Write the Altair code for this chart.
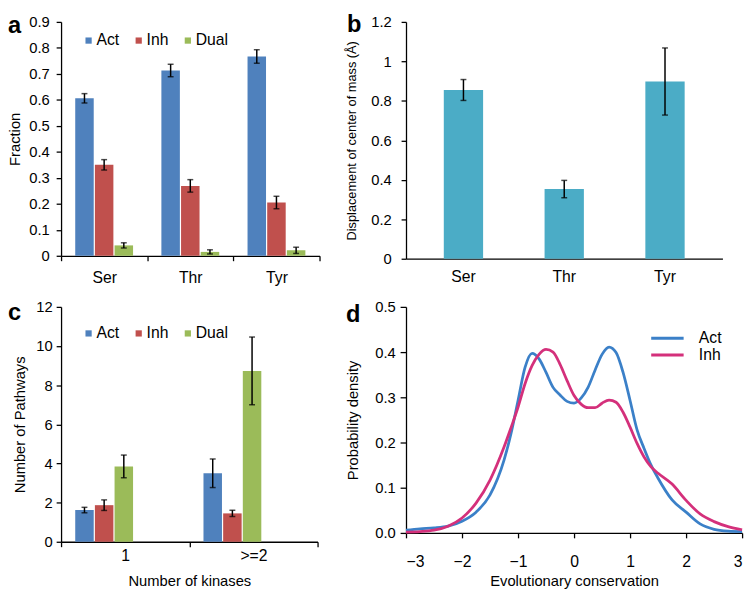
import altair as alt
import pandas as pd

FONT = "Liberation Sans"

# ---------------- data ----------------
residues = ["Ser", "Thr", "Tyr"]
groups = ["Act", "Inh", "Dual"]
group_colors = ["#4F81BD", "#C0504D", "#9BBB59"]

# panel a: fraction per residue
frac_act = [0.606, 0.713, 0.767]
frac_inh = [0.350, 0.269, 0.205]
frac_dual = [0.040, 0.015, 0.021]
frac_act_err = [0.018, 0.024, 0.026]
frac_inh_err = [0.020, 0.024, 0.024]
frac_dual_err = [0.010, 0.008, 0.012]
frac_ticks = [0, 0.1, 0.2, 0.3, 0.4, 0.5, 0.6, 0.7, 0.8, 0.9]

# panel b: displacement of center of mass
disp_values = [0.855, 0.353, 0.898]
disp_err = [0.053, 0.044, 0.170]
disp_ticks = [0, 0.2, 0.4, 0.6, 0.8, 1, 1.2]
disp_color = "#4BACC6"

# panel c: number of pathways
kinase_bins = ["1", ">=2"]
path_act = [1.62, 3.50]
path_inh = [1.87, 1.45]
path_dual = [3.85, 8.73]
path_act_err = [0.14, 0.73]
path_inh_err = [0.27, 0.16]
path_dual_err = [0.58, 1.73]
path_ticks = [0, 2, 4, 6, 8, 10, 12]

# panel d: probability density of evolutionary conservation
cons_x = [-3, -2.75, -2.5, -2.25, -2, -1.75, -1.5, -1.25, -1.125, -1, -0.875, -0.75,
          -0.625, -0.5, -0.375, -0.25, -0.125, 0, 0.125, 0.25, 0.375, 0.5, 0.625, 0.75,
          0.875, 1, 1.125, 1.25, 1.375, 1.5, 1.75, 2, 2.25, 2.5, 2.75, 3]
cons_act = [0.006, 0.009, 0.011, 0.015, 0.026, 0.046, 0.084, 0.161, 0.220, 0.293, 0.366, 0.397,
            0.385, 0.355, 0.322, 0.305, 0.291, 0.287, 0.298, 0.322, 0.360, 0.395, 0.411, 0.399,
            0.355, 0.293, 0.228, 0.187, 0.150, 0.121, 0.073, 0.046, 0.020, 0.008, 0.004, 0.003]
cons_inh = [0.002, 0.003, 0.006, 0.015, 0.033, 0.066, 0.117, 0.190, 0.233, 0.278, 0.330, 0.370,
            0.395, 0.406, 0.400, 0.373, 0.337, 0.304, 0.285, 0.277, 0.277, 0.287, 0.294, 0.289,
            0.267, 0.234, 0.198, 0.168, 0.146, 0.132, 0.108, 0.072, 0.042, 0.025, 0.014, 0.007]
cons_series = ["Act", "Inh"]
cons_colors = ["#3b80c8", "#d4307b"]
cons_xticks = [-3, -2, -1, 0, 1, 2, 3]
cons_yticks = [0, 0.1, 0.2, 0.3, 0.4, 0.5]

# ---------------- tables ----------------
def grouped_df(cat_name, cats, vals, errs):
    rows = []
    for i, c in enumerate(cats):
        for g, v, e in zip(groups, vals, errs):
            rows.append({cat_name: c, "group": g, "value": v[i],
                         "lo": v[i] - e[i], "hi": v[i] + e[i]})
    return pd.DataFrame(rows)

df_a = grouped_df("residue", residues, [frac_act, frac_inh, frac_dual],
                  [frac_act_err, frac_inh_err, frac_dual_err])
df_b = pd.DataFrame({"residue": residues, "value": disp_values,
                     "lo": [v - e for v, e in zip(disp_values, disp_err)],
                     "hi": [v + e for v, e in zip(disp_values, disp_err)]})
df_c = grouped_df("kinases", kinase_bins, [path_act, path_inh, path_dual],
                  [path_act_err, path_inh_err, path_dual_err])
df_d = pd.DataFrame({
    "x": cons_x * 2,
    "density": cons_act + cons_inh,
    "series": ["Act"] * len(cons_x) + ["Inh"] * len(cons_x),
})


def letter(t, x, y):
    return alt.Chart(pd.DataFrame({"t": [t]})).mark_text(
        font=FONT, fontSize=24, fontWeight="bold", align="left",
        baseline="top", color="black"
    ).encode(text="t:N", x=alt.value(x), y=alt.value(y))


def grouped_panel(df, cat, cats, width, height, ydomain, yticks, ytitle, ytp,
                  xtitle, xlp, xtp, po, legend_xy, let, let_xy, ylp):
    xaxis = alt.Axis(title=xtitle, labelAngle=0, tickBand="extent", tickSize=5,
                     labelPadding=xlp, titlePadding=xtp, labelFontSize=16)
    yaxis = alt.Axis(title=ytitle, values=yticks, format="~g", tickSize=5,
                     labelPadding=ylp, titlePadding=ytp, labelOverlap=False)
    xsc = alt.Scale(paddingInner=0, paddingOuter=0)
    xs = alt.X(f"{cat}:N", sort=cats, scale=xsc, axis=xaxis)
    xoff = alt.XOffset("group:N", sort=groups,
                       scale=alt.Scale(domain=groups, paddingInner=0.06, paddingOuter=po))
    ysc = alt.Scale(domain=ydomain, nice=False)
    bars = alt.Chart(df).mark_bar().encode(
        x=xs, xOffset=xoff,
        y=alt.Y("value:Q", scale=ysc, axis=yaxis),
        color=alt.Color("group:N", sort=groups,
                        scale=alt.Scale(domain=groups, range=group_colors),
                        legend=alt.Legend(title=None, orient="none", direction="horizontal",
                                          legendX=legend_xy[0], legendY=legend_xy[1],
                                          symbolType="square", symbolSize=40,
                                          symbolStrokeWidth=0, labelOffset=0,
                                          columnPadding=11, padding=0)),
    )
    err = alt.Chart(df).mark_rule(color="black", strokeWidth=1.5).encode(
        x=xs, xOffset=xoff, y=alt.Y("lo:Q", scale=ysc, axis=yaxis), y2="hi:Q")
    cap_lo = alt.Chart(df).mark_tick(color="black", size=6, thickness=1.5).encode(
        x=xs, xOffset=xoff, y=alt.Y("lo:Q", scale=ysc, axis=yaxis))
    cap_hi = alt.Chart(df).mark_tick(color="black", size=6, thickness=1.5).encode(
        x=xs, xOffset=xoff, y=alt.Y("hi:Q", scale=ysc, axis=yaxis))
    return alt.layer(bars, err, cap_lo, cap_hi, letter(let, *let_xy)).properties(
        width=width, height=height)


panel_a = grouped_panel(df_a, "residue", residues, 263, 238, [0, 0.9], frac_ticks,
                        "Fraction", 6, None, 9, 10, 0.72, (20, 11), "a", (-54, -8), 7)

panel_c = grouped_panel(df_c, "kinases", kinase_bins, 261, 239, [0, 12], path_ticks,
                        "Number of Pathways", 9, "Number of kinases", 1, 11, 0.80, (20, 19),
                        "c", (-54, -6), 4)

# panel b
ysc_b = alt.Scale(domain=[0, 1.2], nice=False)
xsc_b = alt.Scale(paddingInner=0.61, paddingOuter=0.375)
xaxis_b = alt.Axis(title=None, labelAngle=0, ticks=False, labelPadding=10, labelFontSize=16)
yaxis_b = alt.Axis(title="Displacement of center of mass (Å)", values=disp_ticks,
                   format="~g", tickSize=5, labelPadding=10, titlePadding=13,
                   titleFontSize=13, labelOverlap=False)
xs_b = alt.X("residue:N", sort=residues, scale=xsc_b, axis=xaxis_b)
bars_b = alt.Chart(df_b).mark_bar(color=disp_color).encode(
    x=xs_b, y=alt.Y("value:Q", scale=ysc_b, axis=yaxis_b))
err_b = alt.Chart(df_b).mark_rule(color="black", strokeWidth=1.5).encode(
    x=xs_b, y=alt.Y("lo:Q", scale=ysc_b, axis=yaxis_b), y2="hi:Q")
caplo_b = alt.Chart(df_b).mark_tick(color="black", size=6, thickness=1.5).encode(
    x=xs_b, y=alt.Y("lo:Q", scale=ysc_b, axis=yaxis_b))
caphi_b = alt.Chart(df_b).mark_tick(color="black", size=6, thickness=1.5).encode(
    x=xs_b, y=alt.Y("hi:Q", scale=ysc_b, axis=yaxis_b))
panel_b = alt.layer(bars_b, err_b, caplo_b, caphi_b, letter("b", -60, -9)).properties(
    width=322, height=241)

# panel d
lines_d = alt.Chart(df_d).mark_line(interpolate="monotone", strokeWidth=2.8).encode(
    x=alt.X("x:Q", scale=alt.Scale(domain=[-3, 3], nice=False),
            axis=alt.Axis(title="Evolutionary conservation", values=cons_xticks,
                          tickSize=5, labelPadding=16, titlePadding=5, labelOverlap=False,
                          labelFontSize=16)),
    y=alt.Y("density:Q", scale=alt.Scale(domain=[0, 0.5], nice=False),
            axis=alt.Axis(title="Probability density", values=cons_yticks, format=".1f",
                          tickSize=6, labelPadding=5, titlePadding=14, labelOverlap=False)),
    color=alt.Color("series:N", sort=cons_series,
                    scale=alt.Scale(domain=cons_series, range=cons_colors),
                    legend=alt.Legend(title=None, orient="none", legendX=258, legendY=24,
                                      symbolType="M-3.3,0H3.3", symbolSize=100,
                                      symbolStrokeWidth=3, labelOffset=24, padding=0,
                                      rowPadding=1)),
)
panel_d = alt.layer(lines_d, letter("d", -61, -4)).properties(width=342, height=230)

row1 = alt.hconcat(panel_a, panel_b, spacing=25).resolve_scale(
    color="independent").resolve_legend(color="independent")
row2 = alt.hconcat(panel_c, panel_d, spacing=28).resolve_scale(
    color="independent").resolve_legend(color="independent")

chart = alt.vconcat(row1, row2, spacing=15).resolve_scale(
    color="independent"
).resolve_legend(color="independent").properties(
    padding={"left": 0, "top": 0, "right": 0, "bottom": 0}
).configure_axis(
    labelFont=FONT, titleFont=FONT, labelFontSize=15, titleFontSize=15,
    labelColor="black", titleColor="black", titleFontWeight="normal",
    domainColor="black", tickColor="black", domainWidth=1.3, tickWidth=1.3, grid=False
).configure_legend(
    labelFont=FONT, labelFontSize=16, labelColor="black"
).configure_view(stroke=None)

chart.save("out.html", embed_options={"renderer": "svg", "actions": False})
